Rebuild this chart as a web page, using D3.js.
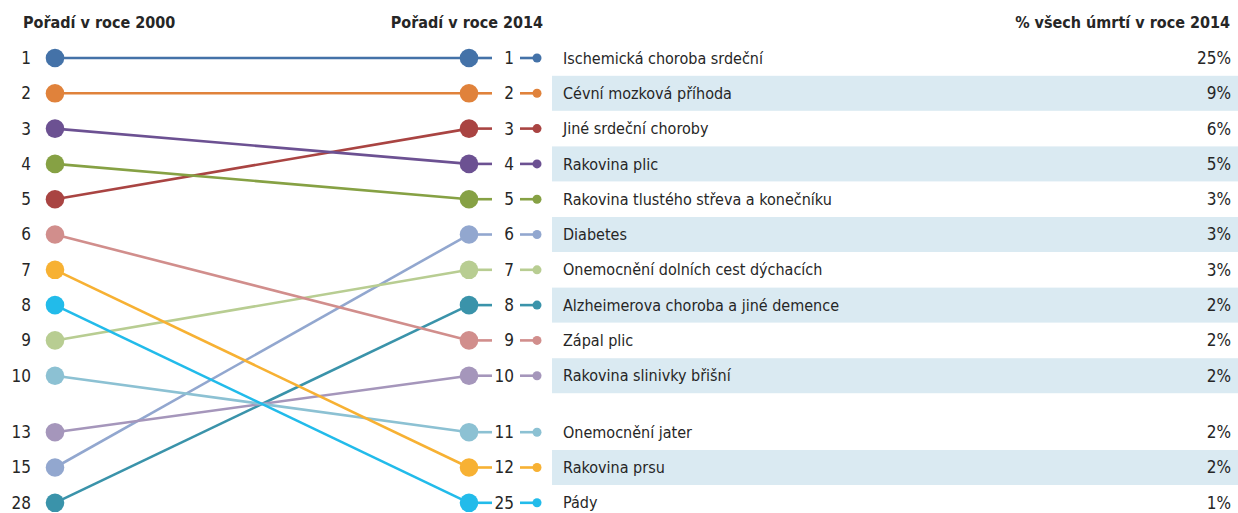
<!DOCTYPE html>
<html>
<head>
<meta charset="utf-8">
<script src="https://cdn.jsdelivr.net/npm/d3@7"></script>
<style>
  body { margin: 0; background: #fff; }
  svg text { font-family: "DejaVu Sans Condensed", sans-serif; fill: #262626; }
  .hdr { font-weight: bold; font-size: 16px; }
  .lbl { font-size: 16px; }
  .num { font-size: 17px; }
</style>
</head>
<body>
<div id="chart"></div>
<script>
// data, in 2014 order
var causes = ["Ischemická choroba srdeční", "Cévní mozková příhoda", "Jiné srdeční choroby",
  "Rakovina plic", "Rakovina tlustého střeva a konečníku", "Diabetes",
  "Onemocnění dolních cest dýchacích", "Alzheimerova choroba a jiné demence",
  "Zápal plic", "Rakovina slinivky břišní", "Onemocnění jater", "Rakovina prsu", "Pády"];
var rank2014 = [1, 2, 3, 4, 5, 6, 7, 8, 9, 10, 11, 12, 25];
var rank2000 = [1, 2, 5, 3, 4, 15, 9, 28, 6, 13, 10, 7, 8];
var share2014 = [25, 9, 6, 5, 3, 3, 3, 2, 2, 2, 2, 2, 1];
var colors = ["#4472a8", "#e0823b", "#a94442", "#6c5192", "#86a144", "#92a7cf",
  "#b8cd92", "#3a93aa", "#d18e8c", "#a596bb", "#8cc1d3", "#f7b133", "#22bbea"];

var width = 1238, height = 513;
var svg = d3.select("#chart").append("svg")
  .attr("width", width).attr("height", height);

// slot index -> y, with a small gap after the 10th row
function slotPos(i) { return i + (i >= 10 ? 0.6 : 0); }
var y = d3.scaleLinear().domain([0, 12.6]).range([58, 502.8]);

var leftRanks = rank2000.slice().sort(d3.ascending);
var rows = causes.map(function(c, i) {
  return {
    name: c, r14: rank2014[i], r00: rank2000[i], pct: share2014[i], color: colors[i],
    y1: y(slotPos(leftRanks.indexOf(rank2000[i]))), y2: y(slotPos(i)), slot: i
  };
});

var xL = 55, xR = 469;

// stripes
svg.selectAll(".stripe")
  .data(rows.filter(function(d) { return d.slot % 2 == 1; }))
  .enter().append("rect")
  .attr("x", 552).attr("width", width - 552)
  .attr("y", function(d) { return d.y2 - 17.5; })
  .attr("height", 35)
  .attr("fill", "#daeaf2");

// headers
svg.append("text").attr("class", "hdr").attr("x", 23).attr("y", 28).text("Pořadí v roce 2000");
svg.append("text").attr("class", "hdr").attr("x", 543).attr("y", 28)
  .attr("text-anchor", "end").text("Pořadí v roce 2014");
svg.append("text").attr("class", "hdr").attr("x", 1230).attr("y", 28)
  .attr("text-anchor", "end").text("% všech úmrtí v roce 2014");

// left rank labels
svg.selectAll(".l00")
  .data(leftRanks)
  .enter().append("text").attr("class", "num")
  .attr("x", 31).attr("y", function(d, i) { return y(slotPos(i)); })
  .attr("dy", "0.35em").attr("text-anchor", "end")
  .text(function(d) { return d; });

var g = svg.selectAll(".row").data(rows).enter().append("g");

// slope lines
g.append("line")
  .attr("x1", xL).attr("y1", function(d) { return d.y1; })
  .attr("x2", xR).attr("y2", function(d) { return d.y2; })
  .attr("stroke", function(d) { return d.color; })
  .attr("stroke-width", 2.6);
// stub right of the big circle
g.append("line")
  .attr("x1", xR).attr("x2", 492)
  .attr("y1", function(d) { return d.y2; }).attr("y2", function(d) { return d.y2; })
  .attr("stroke", function(d) { return d.color; }).attr("stroke-width", 2.6);
g.append("circle").attr("cx", xL).attr("cy", function(d) { return d.y1; })
  .attr("r", 9.3).attr("fill", function(d) { return d.color; });
g.append("circle").attr("cx", xR).attr("cy", function(d) { return d.y2; })
  .attr("r", 9.3).attr("fill", function(d) { return d.color; });

g.append("text").attr("class", "num")
  .attr("x", 514).attr("y", function(d) { return d.y2; })
  .attr("dy", "0.35em").attr("text-anchor", "end")
  .text(function(d) { return d.r14; });

// legend marker
g.append("line")
  .attr("x1", 520).attr("x2", 537)
  .attr("y1", function(d) { return d.y2; }).attr("y2", function(d) { return d.y2; })
  .attr("stroke", function(d) { return d.color; }).attr("stroke-width", 2.6);
g.append("circle").attr("cx", 537).attr("cy", function(d) { return d.y2; })
  .attr("r", 4.5).attr("fill", function(d) { return d.color; });

g.append("text").attr("class", "lbl")
  .attr("x", 563).attr("y", function(d) { return d.y2; })
  .attr("dy", "0.35em")
  .text(function(d) { return d.name; });

g.append("text").attr("class", "num")
  .attr("x", 1231).attr("y", function(d) { return d.y2; })
  .attr("dy", "0.35em").attr("text-anchor", "end")
  .text(function(d) { return d.pct + "%"; });
</script>
</body>
</html>
